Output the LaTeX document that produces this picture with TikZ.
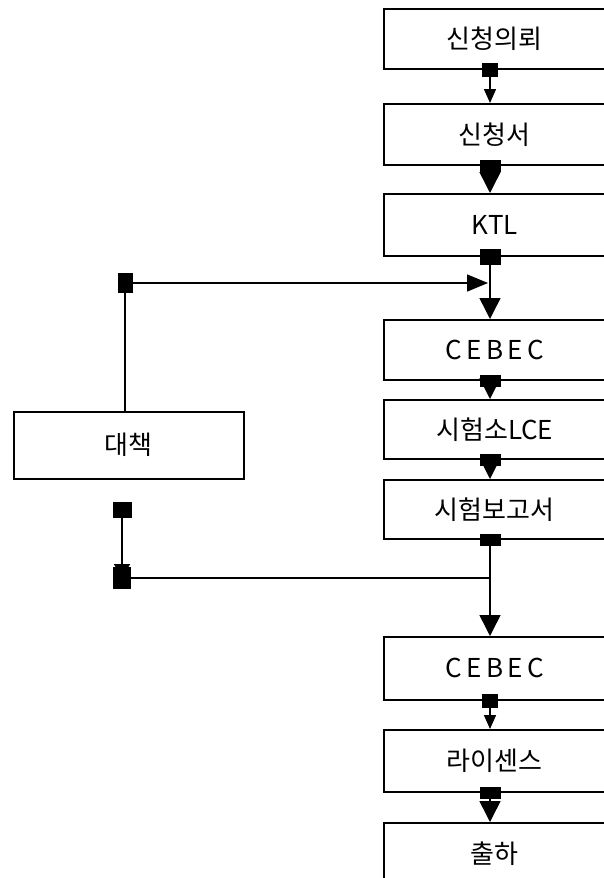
\documentclass[tikz,border=0pt]{standalone}
\usepackage{fontspec}
\setmainfont{Noto Sans CJK KR}
\usetikzlibrary{arrows.meta}
\begin{document}
\begin{tikzpicture}[x=1pt,y=-1pt]
\tikzset{
  box/.style={draw, line width=1.5pt, rectangle, minimum width=222pt, anchor=north west, inner sep=0pt, font=\fontsize{26}{28}\selectfont},
  conn/.style={line width=1.5pt},
  bigarr/.style={conn, shorten <=-6pt, {Square[length=12pt,width=21pt]}-{Triangle[length=21pt,width=21pt]}},
  smallarr/.style={conn, shorten <=-7pt, {Square[length=14pt,width=16pt]}-{Triangle[length=14pt,width=12pt]}},
}
\useasboundingbox (0,0) rectangle (604,878);
\begin{scope}
\clip (0,0) rectangle (604,878);
\node[box, minimum height=60pt] (n1) at (383,8) {신청의뢰};
\node[box, minimum height=61pt] (n2) at (383,103) {신청서};
\node[box, minimum height=62pt] (n3) at (383,193) {KTL};
\node[box, minimum height=60pt] (n4) at (383,319) {C\,E\,B\,E\,C};
\node[box, minimum height=59pt] (n5) at (383,399) {시험소LCE};
\node[box, minimum height=59pt] (n6) at (383,479) {시험보고서};
\node[box, minimum height=63pt] (n7) at (383,636) {C\,E\,B\,E\,C};
\node[box, minimum height=62pt] (n8) at (383,729) {라이센스};
\node[box, minimum height=62pt] (n9) at (383,822) {출하};
\node[box, minimum width=230pt, minimum height=67pt] (d) at (13,411) {대책};
\end{scope}
\coordinate (cx) at (490,0);
\coordinate (c1) at (125,283);
\coordinate (c2) at (122,510);
\coordinate (c3) at (122,578);
% main column
\draw[smallarr] (n1.south -| cx) -- (n2.north -| cx);
\draw[bigarr] (n2.south -| cx) -- (n3.north -| cx);
\draw[conn, shorten <=-8pt, {Square[length=16pt,width=21pt]}-{Triangle[length=21pt,width=21pt]}] (n3.south -| cx) -- (n4.north -| cx);
\draw[bigarr] (n4.south -| cx) -- (n5.north -| cx);
\draw[bigarr] (n5.south -| cx) -- (n6.north -| cx);
\draw[bigarr] (n6.south -| cx) -- (n7.north -| cx);
\draw[smallarr] (n7.south -| cx) -- (n8.north -| cx);
\draw[bigarr] (n8.south -| cx) -- (n9.north -| cx);
% feedback loop
\draw[conn] (d.north -| c1) -- (c1);
\draw[conn, shorten <=-7.5pt, {Square[length=15pt,width=20pt]}-{Triangle[length=21pt,width=17pt]}] (c1) -- ([xshift=-2pt]c1 -| cx);
\draw[conn, shorten <=-8pt, {Square[length=16pt,width=19pt]}-{Triangle[length=14pt,width=16pt]}] (c2) -- (c3);
\draw[conn, shorten <=-9pt, {Square[length=18pt,width=22pt]}-] (c3) -- (c3 -| cx);
\end{tikzpicture}
\end{document}
